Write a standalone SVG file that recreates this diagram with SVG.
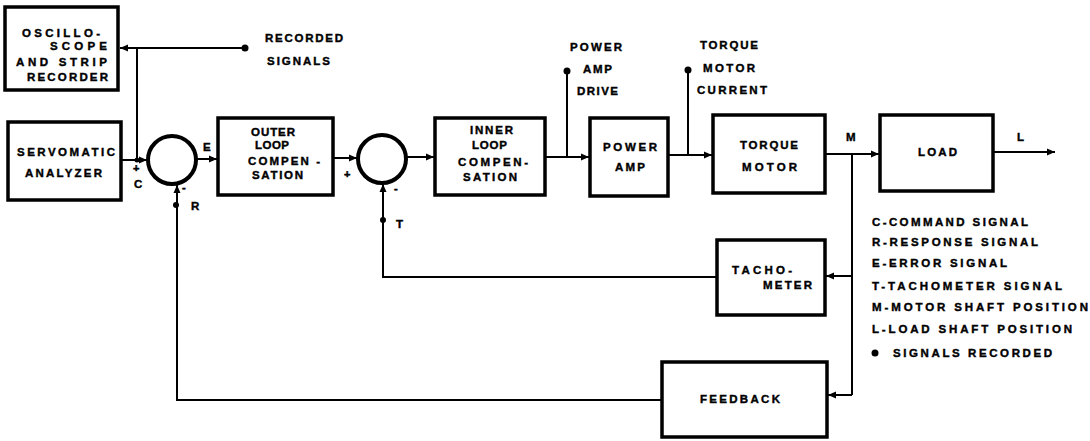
<svg xmlns="http://www.w3.org/2000/svg" width="1090" height="441" viewBox="0 0 1090 441">
<defs>
<marker id="ah" markerUnits="userSpaceOnUse" markerWidth="9" markerHeight="8" refX="8" refY="4" orient="auto">
<path d="M0,0.5 L8,4 L0,7.5 Z" fill="#000"/>
</marker>
<style>
.box{fill:#fff;stroke:#000;stroke-width:3.5}
.ln{fill:none;stroke:#000;stroke-width:2}
.t{font-family:"Liberation Sans",Arial,sans-serif;font-weight:bold;font-size:11.5px;fill:#000;stroke:#000;stroke-width:0.4}
.s{font-family:"Liberation Sans",Arial,sans-serif;font-weight:bold;font-size:11px;fill:#000;stroke:#000;stroke-width:0.5}
</style>
</defs>
<rect width="1090" height="441" fill="#fff"/>

<g id="connectors">
<path class="ln" d="M245,48 H120" marker-end="url(#ah)"/>
<path class="ln" d="M137,48 V160"/>
<path class="ln" d="M121,160 H147" marker-end="url(#ah)"/>
<path class="ln" d="M196,159 H217" marker-end="url(#ah)"/>
<path class="ln" d="M333,158 H357" marker-end="url(#ah)"/>
<path class="ln" d="M406,157 H434" marker-end="url(#ah)"/>
<path class="ln" d="M545,157 H589" marker-end="url(#ah)"/>
<path class="ln" d="M567,157 V71"/>
<path class="ln" d="M668,155 H712" marker-end="url(#ah)"/>
<path class="ln" d="M688,155 V70"/>
<path class="ln" d="M825,154 H879" marker-end="url(#ah)"/>
<path class="ln" d="M993,152 H1055" marker-end="url(#ah)"/>
<path class="ln" d="M852,154 V395"/>
<path class="ln" d="M852,276 H826" marker-end="url(#ah)"/>
<path class="ln" d="M852,395 H828" marker-end="url(#ah)"/>
<path class="ln" d="M717,277 H383 V184" marker-end="url(#ah)"/>
<path class="ln" d="M662,400 H177 V185" marker-end="url(#ah)"/>
<circle cx="245" cy="48" r="3.5" fill="#000"/>
<circle cx="567" cy="71" r="3.5" fill="#000"/>
<circle cx="688" cy="70" r="3.5" fill="#000"/>
<circle cx="137" cy="160" r="2.5" fill="#000"/>
<circle cx="176" cy="205" r="3" fill="#000"/>
<circle cx="383" cy="220" r="3" fill="#000"/>
</g>

<g id="oscilloscope">
<rect class="box" x="5" y="7" width="113" height="83"/>
<text class="t" x="22" y="37" textLength="78" lengthAdjust="spacing">OSCILLO-</text>
<text class="t" x="50" y="50" textLength="57" lengthAdjust="spacing">SCOPE</text>
<text class="t" x="16" y="66" textLength="91" lengthAdjust="spacing">AND STRIP</text>
<text class="t" x="27" y="81" textLength="81" lengthAdjust="spacing">RECORDER</text>
</g>

<g id="recorded-label">
<text class="t" x="265" y="42" textLength="78" lengthAdjust="spacing">RECORDED</text>
<text class="t" x="267" y="65" textLength="63" lengthAdjust="spacing">SIGNALS</text>
</g>

<g id="servomatic">
<rect class="box" x="8" y="122" width="113" height="78"/>
<text class="t" x="17" y="156" textLength="98" lengthAdjust="spacing">SERVOMATIC</text>
<text class="t" x="25" y="177" textLength="77" lengthAdjust="spacing">ANALYZER</text>
</g>

<g id="sum1">
<circle cx="172" cy="160" r="24" fill="#fff" stroke="#000" stroke-width="4"/>
<text class="s" x="133" y="172">+</text>
<text class="t" x="134" y="188">C</text>
<text class="s" x="182" y="191">-</text>
<text class="t" x="191" y="210">R</text>
<text class="t" x="203" y="151">E</text>
</g>

<g id="outer-loop">
<rect class="box" x="218" y="118" width="115" height="77"/>
<text class="t" x="251" y="136" textLength="44" lengthAdjust="spacing">OUTER</text>
<text class="t" x="255" y="149" textLength="34" lengthAdjust="spacing">LOOP</text>
<text class="t" x="248" y="165" textLength="72" lengthAdjust="spacing">COMPEN -</text>
<text class="t" x="252" y="179" textLength="51" lengthAdjust="spacing">SATION</text>
</g>

<g id="sum2">
<circle cx="382" cy="159" r="24" fill="#fff" stroke="#000" stroke-width="4"/>
<text class="s" x="344" y="178">+</text>
<text class="s" x="394" y="192">-</text>
<text class="t" x="396" y="228">T</text>
</g>

<g id="inner-loop">
<rect class="box" x="435" y="118" width="110" height="77"/>
<text class="t" x="470" y="134" textLength="43" lengthAdjust="spacing">INNER</text>
<text class="t" x="472" y="149" textLength="35" lengthAdjust="spacing">LOOP</text>
<text class="t" x="458" y="166" textLength="70" lengthAdjust="spacing">COMPEN-</text>
<text class="t" x="463" y="181" textLength="54" lengthAdjust="spacing">SATION</text>
</g>

<g id="power-amp-label">
<text class="t" x="570" y="51" textLength="52" lengthAdjust="spacing">POWER</text>
<text class="t" x="583" y="73" textLength="29" lengthAdjust="spacing">AMP</text>
<text class="t" x="577" y="95" textLength="41" lengthAdjust="spacing">DRIVE</text>
</g>

<g id="power-amp">
<rect class="box" x="590" y="118" width="78" height="78"/>
<text class="t" x="603" y="151" textLength="54" lengthAdjust="spacing">POWER</text>
<text class="t" x="615" y="171" textLength="30" lengthAdjust="spacing">AMP</text>
</g>

<g id="torque-current-label">
<text class="t" x="700" y="49" textLength="58" lengthAdjust="spacing">TORQUE</text>
<text class="t" x="703" y="72" textLength="52" lengthAdjust="spacing">MOTOR</text>
<text class="t" x="697" y="94" textLength="70" lengthAdjust="spacing">CURRENT</text>
</g>

<g id="torque-motor">
<rect class="box" x="713" y="115" width="112" height="78"/>
<text class="t" x="740" y="149" textLength="58" lengthAdjust="spacing">TORQUE</text>
<text class="t" x="742" y="171" textLength="55" lengthAdjust="spacing">MOTOR</text>
<text class="t" x="846" y="141">M</text>
</g>

<g id="load">
<rect class="box" x="880" y="115" width="113" height="76"/>
<text class="t" x="918" y="156" textLength="39" lengthAdjust="spacing">LOAD</text>
<text class="t" x="1017" y="141">L</text>
</g>

<g id="tachometer">
<rect class="box" x="717" y="240" width="108" height="75"/>
<text class="t" x="732" y="274" textLength="60" lengthAdjust="spacing">TACHO-</text>
<text class="t" x="763" y="289" textLength="49" lengthAdjust="spacing">METER</text>
</g>

<g id="feedback">
<rect class="box" x="662" y="362" width="165" height="75"/>
<text class="t" x="700" y="403" textLength="80" lengthAdjust="spacing">FEEDBACK</text>
</g>

<g id="legend">
<text class="t" x="872" y="226" textLength="156" lengthAdjust="spacing">C-COMMAND SIGNAL</text>
<text class="t" x="872" y="246" textLength="166" lengthAdjust="spacing">R-RESPONSE SIGNAL</text>
<text class="t" x="872" y="267" textLength="135" lengthAdjust="spacing">E-ERROR SIGNAL</text>
<text class="t" x="872" y="290" textLength="190" lengthAdjust="spacing">T-TACHOMETER SIGNAL</text>
<text class="t" x="872" y="311" textLength="216" lengthAdjust="spacing">M-MOTOR SHAFT POSITION</text>
<text class="t" x="872" y="333" textLength="200" lengthAdjust="spacing">L-LOAD SHAFT POSITION</text>
<circle cx="875" cy="353" r="3.5" fill="#000"/>
<text class="t" x="893" y="357" textLength="159" lengthAdjust="spacing">SIGNALS RECORDED</text>
</g>
</svg>
